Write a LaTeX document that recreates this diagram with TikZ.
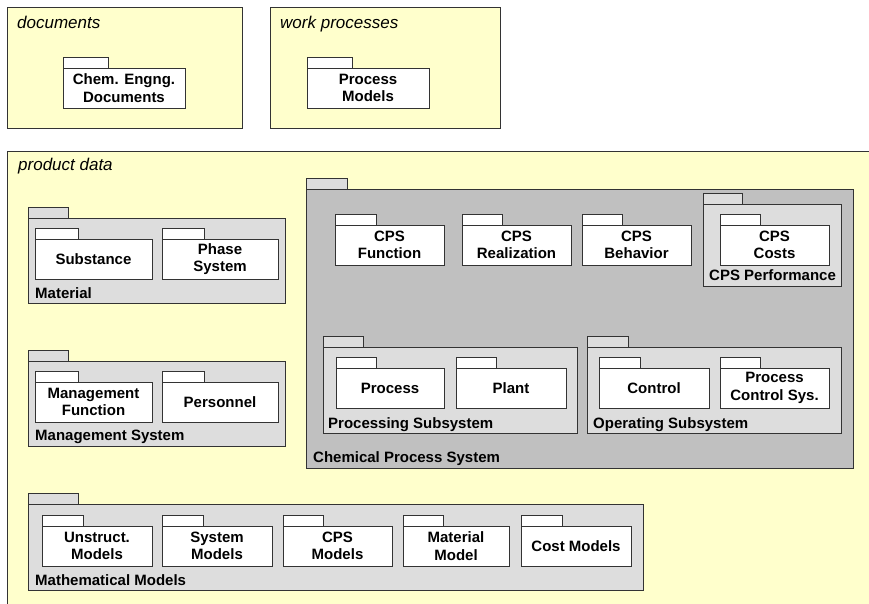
\documentclass[tikz,border=0pt]{standalone}
\usepackage{fontspec}
\setmainfont{Liberation Sans}
\usepackage{tikz}
\usetikzlibrary{shapes, positioning, shadows}
\definecolor{cYellow}{RGB}{255,255,204}
\definecolor{cGrey}{RGB}{192,192,192}
\definecolor{cLight}{RGB}{221,221,221}

\begin{document}
\begin{tikzpicture}[x=1pt, y=-1pt,
            box/.style={rectangle, draw=black!80, line width=1pt, anchor=north west,
                        inner sep=0pt, outer sep=0pt,
                        drop shadow={shadow xshift=1.2pt, shadow yshift=-1.2pt, fill=black!35, opacity=1}},
            frame/.style={box, fill=cYellow},
            group/.style={box, fill=cLight},
            leaf/.style={box, fill=white, minimum height=40, align=center,
                         font=\fontsize{15}{17.5}\selectfont\bfseries},
            tab/.style={rectangle, draw=black!80, line width=1pt, anchor=south west,
                        inner sep=0pt, outer sep=0pt, minimum height=10.5},
            lbl/.style={anchor=base west, inner sep=0pt, font=\fontsize{15}{17.5}\selectfont\bfseries},
            ttl/.style={anchor=base west, inner sep=0pt, font=\fontsize{17}{20}\selectfont\itshape}]
            \clip (0,0) rectangle (869,603);
            % outer areas
            \node[frame, minimum width=235, minimum height=121] (docs) at (7,7) {};
            \node[ttl] (ldocs) at (17,28) {documents};
            \node[frame, minimum width=230, minimum height=121] (work) at (270,7) {};
            \node[ttl] (lwork) at (280,28) {work processes};
            \node[frame, minimum width=880, minimum height=470] (prod) at (7,151) {};
            \node[ttl] (lprod) at (18,170) {product data};
            \node[leaf, minimum width=122] (chemdoc) at (63,68) {Chem. Engng.\\Documents};
            \node[leaf, minimum width=122] (procmod) at (307,68) {Process\\Models};
            % material and management
            \node[group, minimum width=257, minimum height=85] (mat) at (28,218) {};
            \node[leaf, minimum width=117] (subst) at (35,239) {Substance};
            \node[leaf, minimum width=116] (phase) at (162,239) {Phase\\System};
            \node[lbl] (lmat) at (35,298) {Material};
            \node[group, minimum width=257, minimum height=85] (mgmt) at (28,361) {};
            \node[leaf, minimum width=117] (mfun) at (35,382) {Management\\Function};
            \node[leaf, minimum width=116] (pers) at (162,382) {Personnel};
            \node[lbl] (lmgmt) at (35,440) {Management System};
            % chemical process system
            \node[box, fill=cGrey, minimum width=547, minimum height=279] (cps) at (306,189) {};
            \node[leaf, minimum width=109] (cpsfun) at (335,225) {CPS\\Function};
            \node[leaf, minimum width=109] (cpsreal) at (462,225) {CPS\\Realization};
            \node[leaf, minimum width=109] (cpsbeh) at (582,225) {CPS\\Behavior};
            \node[group, minimum width=138, minimum height=82] (perf) at (703,204) {};
            \node[leaf, minimum width=109] (costs) at (720,225) {CPS\\Costs};
            \node[lbl] (lperf) at (709,280) {CPS Performance};
            \node[group, minimum width=254, minimum height=86] (procsub) at (323,347) {};
            \node[leaf, minimum width=108] (proc) at (336,368) {Process};
            \node[leaf, minimum width=110] (plant) at (456,368) {Plant};
            \node[lbl] (lprocsub) at (328,428) {Processing Subsystem};
            \node[group, minimum width=254, minimum height=86] (opsub) at (587,347) {};
            \node[leaf, minimum width=110] (ctrl) at (599,368) {Control};
            \node[leaf, minimum width=109] (pcs) at (720,368) {Process\\Control Sys.};
            \node[lbl] (lopsub) at (593,428) {Operating Subsystem};
            \node[lbl] (lcps) at (313,462) {Chemical Process System};
            % mathematical models
            \node[group, minimum width=615, minimum height=86] (math) at (28,504) {};
            \node[leaf, minimum width=110] (unstr) at (42,526) {Unstruct.\\Models};
            \node[leaf, minimum width=110] (sysmod) at (162,526) {System\\Models};
            \node[leaf, minimum width=109] (cpsmod) at (283,526) {CPS\\Models};
            \node[leaf, minimum width=106] (matmod) at (403,526) {Material\\Model};
            \node[leaf, minimum width=110] (cost) at (521,526) {Cost Models};
            \node[lbl] (lmath) at (35,585) {Mathematical Models};
            % package tabs
            \foreach \p/\w in {cps/41, perf/39, procsub/40, opsub/41, mat/40, mgmt/40, math/50}
                \node[tab, fill=cLight, minimum width=\w] (t\p) at (\p.north west) {};
            \foreach \p/\w in {chemdoc/45, procmod/45, subst/43, phase/42, mfun/43, pers/42,
                               cpsfun/41, cpsreal/40, cpsbeh/40, costs/40, proc/40, plant/40,
                               ctrl/41, pcs/40, unstr/41, sysmod/41, cpsmod/40, matmod/40, cost/41}
                \node[tab, fill=white, minimum width=\w] (t\p) at (\p.north west) {};
        \end{tikzpicture}
\end{document}
